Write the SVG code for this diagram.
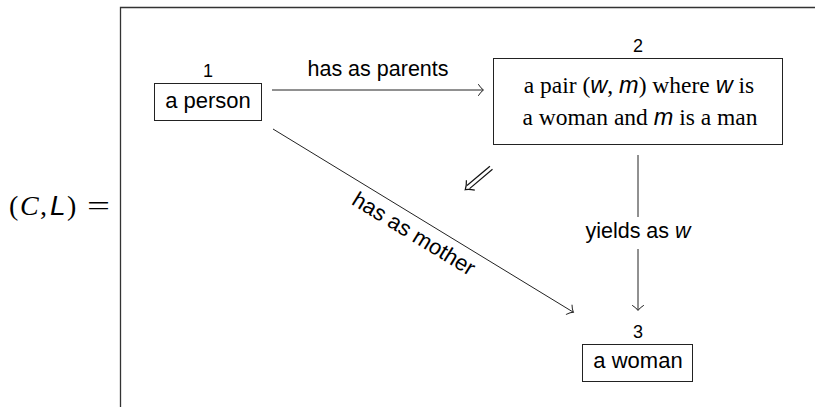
<svg xmlns="http://www.w3.org/2000/svg" width="815" height="407" viewBox="0 0 815 407">
<style>
.sans{font-family:"Liberation Sans",Arial,sans-serif;fill:#000}
.serif{font-family:"Liberation Serif","Times New Roman",serif;fill:#000}
.box{fill:#fff;stroke:#222;stroke-width:1}
.edge{fill:none;stroke:#222;stroke-width:1}
.mi{font-family:"Liberation Sans",Arial,sans-serif;font-style:italic}
.num{font-family:"Liberation Sans",Arial,sans-serif;font-size:18px;fill:#000}
</style>
<defs>
<marker id="to" markerUnits="userSpaceOnUse" markerWidth="14" markerHeight="14" refX="0" refY="0" viewBox="-8 -7 10 14" orient="auto" overflow="visible">
<path d="M-4.5,-5.5 Q-2,-1.5 0.5,0 Q-2,1.5 -4.5,5.5" fill="none" stroke="#222" stroke-width="1" stroke-linecap="round"/>
</marker>
</defs>
<rect width="815" height="407" fill="#fff"/>
<g id="frame">
<path d="M120.5,407 V7.5 H815" fill="none" stroke="#333" stroke-width="1.3"/>
<text class="serif" y="215" font-size="28"><tspan x="9">(</tspan><tspan x="20" font-style="italic">C</tspan><tspan x="40">,</tspan><tspan x="50" class="mi">L</tspan><tspan x="67">)</tspan></text>
<text class="serif" x="87" y="215" font-size="28" textLength="23" lengthAdjust="spacingAndGlyphs">=</text>
</g>
<g id="connectors">
<line class="edge" x1="272" y1="90" x2="483" y2="90" marker-end="url(#to)"/>
<text class="sans" x="378" y="76" font-size="21.5" text-anchor="middle">has as parents</text>
<line class="edge" x1="273" y1="129" x2="573" y2="312" marker-end="url(#to)"/>
<text class="sans" x="410" y="240" font-size="22" text-anchor="middle" transform="rotate(31.4 410 240)">has as mother</text>
<line class="edge" x1="638" y1="155" x2="638" y2="217"/>
<line class="edge" x1="638" y1="249" x2="638" y2="310" marker-end="url(#to)"/>
<text class="sans" x="638" y="238" font-size="21.5" text-anchor="middle">yields as <tspan font-style="italic">w</tspan></text>
<g id="implies" transform="translate(466,189) rotate(139.8)">
<line x1="-33" y1="-2" x2="-3" y2="-2" stroke="#111" stroke-width="1.2"/>
<line x1="-33" y1="2" x2="-3" y2="2" stroke="#111" stroke-width="1.2"/>
<path d="M-6,-6.5 Q-2.5,-2 1,0 Q-2.5,2 -6,6.5" fill="none" stroke="#111" stroke-width="1.2"/>
</g>
</g>
<g id="node1">
<text class="num" x="208" y="77" text-anchor="middle">1</text>
<rect class="box" x="154.5" y="83.5" width="107" height="37"/>
<text class="sans" x="208" y="108" font-size="22" text-anchor="middle">a person</text>
</g>
<g id="node2">
<text class="num" x="638" y="52" text-anchor="middle">2</text>
<rect class="box" x="493.5" y="58.5" width="289" height="86"/>
<text class="serif" x="639" y="92.5" font-size="23.5" text-anchor="middle">a pair (<tspan class="mi">w</tspan>, <tspan class="mi">m</tspan>) where <tspan class="mi">w</tspan> is</text>
<text class="serif" x="640" y="124.5" font-size="23.5" text-anchor="middle">a woman and <tspan class="mi">m</tspan> is a man</text>
</g>
<g id="node3">
<text class="num" x="638" y="338" text-anchor="middle">3</text>
<rect class="box" x="582.5" y="344.5" width="110" height="37"/>
<text class="sans" x="638" y="368" font-size="22" text-anchor="middle">a woman</text>
</g>
</svg>
